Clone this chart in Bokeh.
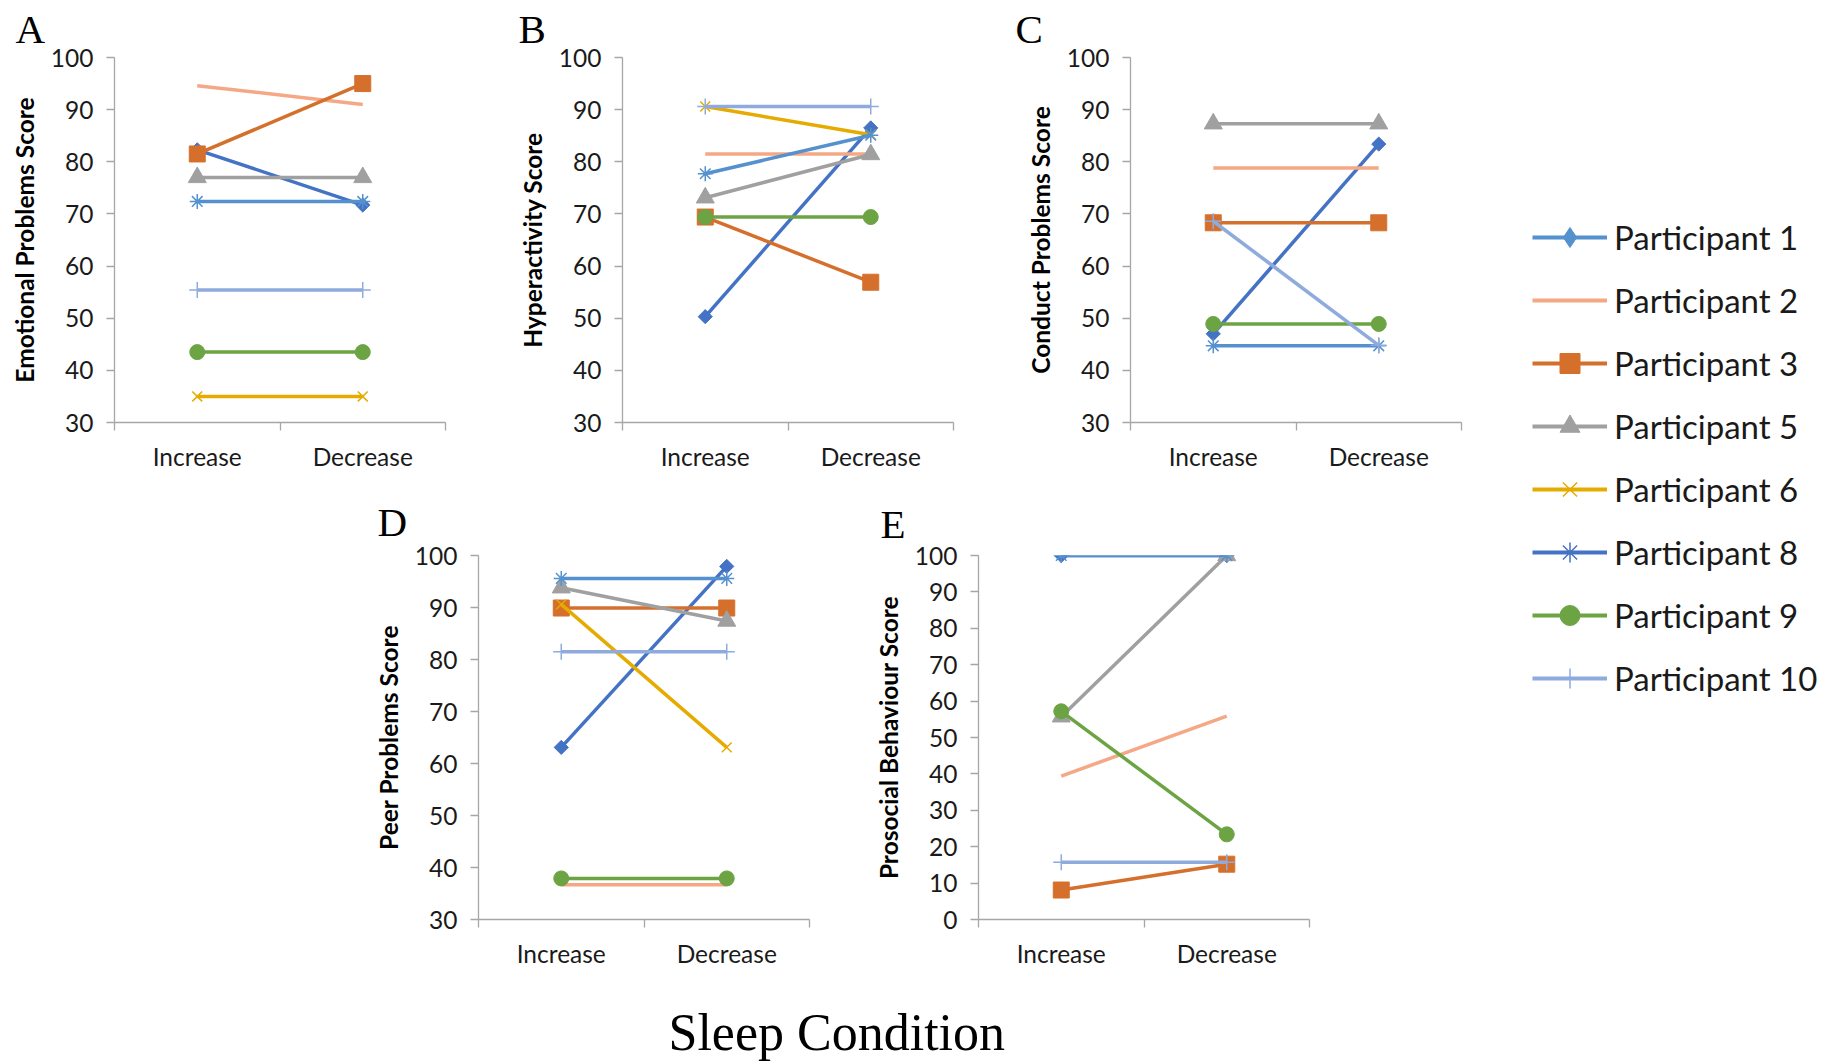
import numpy as np
from bokeh.plotting import figure
from bokeh.models import Range1d, FixedTicker, Legend, LegendItem, Spacer
from bokeh.layouts import row, column
from bokeh.embed import file_html
from bokeh.resources import INLINE

# ---------------- data ----------------
PARTICIPANTS = ["Participant 1", "Participant 2", "Participant 3", "Participant 5",
                "Participant 6", "Participant 8", "Participant 9", "Participant 10"]
CONDITIONS = ["Increase", "Decrease"]

emotional_increase = [82.3, 94.6, 81.5, 77.0, 35.0, 72.4, 43.5, 55.4]
emotional_decrease = [71.7, 91.0, 95.0, 77.0, 35.0, 72.4, 43.5, 55.4]

hyper_increase = [50.3, 81.5, 69.4, 73.1, 90.6, 77.7, 69.4, 90.6]
hyper_decrease = [86.5, 81.5, 56.9, 81.4, 85.2, 85.1, 69.4, 90.6]

conduct_increase = [47.0, 78.8, 68.3, 87.3, None, 44.7, 48.9, 68.6]
conduct_decrease = [83.4, 78.8, 68.3, 87.3, None, 44.7, 48.9, 44.8]

peer_increase = [63.1, 36.7, 89.9, 93.8, 90.6, 95.6, 37.9, 81.5]
peer_decrease = [97.9, 36.7, 89.9, 87.4, 63.1, 95.6, 37.9, 81.5]

prosocial_increase = [100.0, 39.4, 8.1, 55.7, None, 100.0, 57.2, 15.7]
prosocial_decrease = [100.0, 55.9, 15.2, 100.0, None, 100.0, 23.4, 15.7]

# ---------------- styles ----------------
CHART_COLORS = ["#4472C4", "#F4A886", "#D5702C", "#A0A0A0",
                "#E5AB00", "#5591CE", "#6CA444", "#8FAADC"]
LEGEND_COLORS = ["#5591CE", "#F4A886", "#D5702C", "#A0A0A0",
                 "#E5AB00", "#4472C4", "#6CA444", "#8FAADC"]
MARKERS = ["square", None, "square", "triangle", "x", "asterisk", "circle", "cross"]
LEGEND_MARKERS = ["diamond", None, "square", "triangle", "x", "asterisk", "circle", "cross"]
MARKER_SIZES = [10, 0, 16, 18, 14, 15, 15, 16]
MARKER_ANGLES = [np.pi / 4, 0, 0, 0, 0, 0, 0, 0]
OUTLINE_ONLY = {"x", "asterisk", "cross"}

AXIS_GRAY = "#A6A6A6"
FONT = "Lato"


def make_panel(letter, ylabel, inc, dec, ymin, width, height, left, right, top, bottom,
               title_offset, title_standoff):
    p = figure(width=width, height=height, x_range=Range1d(0, 2), y_range=Range1d(ymin, 100),
               output_backend="svg", toolbar_location=None, title=letter,
               min_border_left=left, min_border_right=right,
               min_border_top=top, min_border_bottom=bottom)
    p.title.text_font = "Liberation Serif"
    p.title.text_font_size = "41px"
    p.title.text_font_style = "normal"
    p.title.text_color = "#000000"
    p.title.align = "left"
    p.title.vertical_align = "top"
    p.title.offset = title_offset
    p.title.standoff = title_standoff
    p.outline_line_color = None
    p.grid.visible = False
    p.background_fill_color = None
    p.border_fill_color = None

    xs = [i + 0.5 for i in range(len(CONDITIONS))]
    for k, name in enumerate(PARTICIPANTS):
        a, b = inc[k], dec[k]
        if a is None or b is None:
            continue
        ys = [a, b]
        p.line(xs, ys, line_color=CHART_COLORS[k], line_width=3.5)
        m = MARKERS[k]
        if m is not None:
            if m in OUTLINE_ONLY:
                p.scatter(xs, ys, marker=m, size=MARKER_SIZES[k], line_color=CHART_COLORS[k],
                          line_width=1.5, fill_color=None)
            else:
                p.scatter(xs, ys, marker=m, size=MARKER_SIZES[k], angle=MARKER_ANGLES[k],
                          line_color=CHART_COLORS[k], fill_color=CHART_COLORS[k])

    # x axis (category style, ticks at band boundaries)
    xa = p.xaxis[0]
    xa.ticker = FixedTicker(ticks=xs, minor_ticks=list(range(len(CONDITIONS) + 1)))
    xa.major_label_overrides = {x: c for x, c in zip(xs, CONDITIONS)}
    xa.major_tick_out = 0
    xa.major_tick_in = 0
    xa.minor_tick_out = 8
    xa.minor_tick_in = 0
    xa.minor_tick_line_color = AXIS_GRAY
    xa.minor_tick_line_width = 1.3
    xa.axis_line_color = AXIS_GRAY
    xa.axis_line_width = 1.3
    xa.major_label_text_font = FONT
    xa.major_label_text_font_size = "24.5px"
    xa.major_label_text_color = "#1A1A1A"
    xa.major_label_standoff = 11

    ya = p.yaxis[0]
    ya.ticker = FixedTicker(ticks=list(range(ymin, 101, 10)))
    ya.minor_tick_line_color = None
    ya.major_tick_out = 8
    ya.major_tick_in = 0
    ya.major_tick_line_color = AXIS_GRAY
    ya.major_tick_line_width = 1.3
    ya.axis_line_color = AXIS_GRAY
    ya.axis_line_width = 1.3
    ya.major_label_text_font = FONT
    ya.major_label_text_font_size = "24.5px"
    ya.major_label_text_color = "#1A1A1A"
    ya.major_label_standoff = 13
    ya.axis_label = ylabel
    ya.axis_label_text_font = FONT
    ya.axis_label_text_font_style = "bold"
    ya.axis_label_text_font_size = "24.5px"
    ya.axis_label_text_color = "#000000"
    ya.axis_label_standoff = 9
    return p


pA = make_panel("A", "Emotional Problems Score", emotional_increase, emotional_decrease, 30,
                505, 490, 114, 60, 57, 68, -99, 7)
pB = make_panel("B", "Hyperactivity Score", hyper_increase, hyper_decrease, 30,
                508, 490, 117, 60, 57, 68, -104, 7)
pC = make_panel("C", "Conduct Problems Score", conduct_increase, conduct_decrease, 30,
                508, 490, 117, 60, 57, 68, -115, 7)
pD = make_panel("D", "Peer Problems Score", peer_increase, peer_decrease, 30,
                500, 485, 118, 51, 65, 56, -101, 17)
pE = make_panel("E", "Prosocial Behaviour Score", prosocial_increase, prosocial_decrease, 0,
                500, 485, 118, 51, 65, 56, -98, 14)

# ---------------- legend figure ----------------
lf = figure(width=317, height=975, x_axis_location=None, y_axis_location=None,
            x_range=Range1d(0, 1), y_range=Range1d(0, 1),
            toolbar_location=None, output_backend="svg",
            min_border_left=0, min_border_right=0, min_border_top=201, min_border_bottom=0)
lf.grid.visible = False
lf.outline_line_color = None
items = []
nan_pt = [np.nan]
for k, name in enumerate(PARTICIPANTS):
    rs = [lf.line(x=nan_pt, y=nan_pt, line_color=LEGEND_COLORS[k], line_width=4)]
    m = LEGEND_MARKERS[k]
    if m is not None:
        if m in OUTLINE_ONLY:
            rs.append(lf.scatter(x=nan_pt, y=nan_pt, marker=m, line_color=LEGEND_COLORS[k],
                                 line_width=1.5, fill_color=None))
        else:
            rs.append(lf.scatter(x=nan_pt, y=nan_pt, marker=m, line_color=LEGEND_COLORS[k],
                                 fill_color=LEGEND_COLORS[k]))
    items.append(LegendItem(label=name, renderers=rs))
leg = Legend(items=items, location="top_left", margin=11, padding=0, spacing=13,
             glyph_width=75, glyph_height=50, label_height=50, label_standoff=7,
             label_text_font=FONT, label_text_font_size="33px", label_text_color="#1A1A1A",
             border_line_color=None, background_fill_alpha=0)
lf.add_layout(leg)

# ---------------- bottom title ----------------
bf = figure(width=1838, height=87, title="Sleep Condition", title_location="below",
            x_axis_location=None, y_axis_location=None, toolbar_location=None,
            output_backend="svg", min_border_top=0, min_border_left=0,
            min_border_right=0, min_border_bottom=61)
bf.grid.visible = False
bf.outline_line_color = None
bf.title.text_font = "Liberation Serif"
bf.title.text_font_size = "52px"
bf.title.text_font_style = "normal"
bf.title.text_color = "#000000"
bf.title.align = "left"
bf.title.offset = 668
bf.title.standoff = 0

left_col = column(row(pA, pB, pC), row(Spacer(width=360, height=485), pD, pE))
layout = column(row(left_col, lf), bf)

open("out.html", "w").write(file_html(layout, INLINE))
